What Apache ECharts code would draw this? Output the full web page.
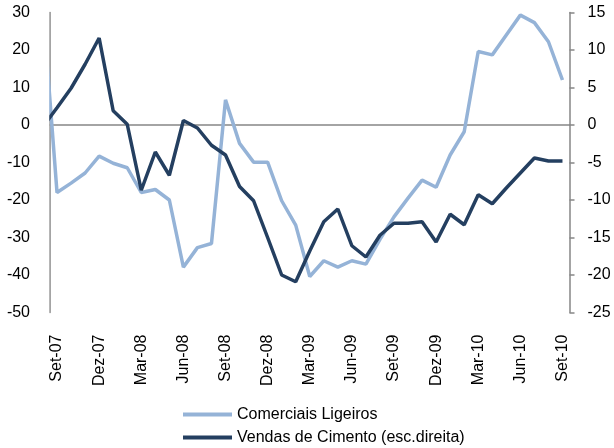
<!DOCTYPE html>
<html>
<head>
<meta charset="utf-8">
<script src="https://cdn.jsdelivr.net/npm/echarts@6/dist/echarts.min.js"></script>
<style>
html,body{margin:0;padding:0;background:#fff;}
#chart{width:614px;height:448px;}
</style>
</head>
<body>
<div id="chart"></div>
<script>
// Months: first entry (Ago-07) lies just left of the plot area and is clipped
var months = ['Ago-07','Set-07','Out-07','Nov-07','Dez-07','Jan-08','Fev-08','Mar-08','Abr-08','Mai-08','Jun-08','Jul-08','Ago-08',
  'Set-08','Out-08','Nov-08','Dez-08','Jan-09','Fev-09','Mar-09','Abr-09','Mai-09','Jun-09','Jul-09','Ago-09',
  'Set-09','Out-09','Nov-09','Dez-09','Jan-10','Fev-10','Mar-10','Abr-10','Mai-10','Jun-10','Jul-10','Ago-10','Set-10'];
var shownMonths = months.slice(1);

var comerciaisLigeiros = [31, -18.0, -15.5, -12.8, -8.3, -10.2, -11.4, -18.0, -17.2, -20.0, -37.9, -32.7, -31.6,
  6.7, -4.9, -9.9, -9.9, -20.2, -26.7, -40.4, -36.2, -37.9, -36.2, -37.1, -30.5,
  -24.5, -19.5, -14.7, -16.6, -8.0, -1.8, 19.6, 18.7, 24.0, 29.3, 27.3, 22.2, 12.0];

var vendasCimento = [-0.2, 2.3, 4.9, 8.1, 11.6, 1.9, 0.1, -8.7, -3.6, -6.7, 0.6, -0.4, -2.7,
  -4.0, -8.2, -10.1, -15.0, -20.0, -20.9, -16.8, -12.9, -11.2, -16.1, -17.6, -14.7,
  -13.1, -13.1, -12.9, -15.6, -11.9, -13.3, -9.3, -10.5, -8.4, -6.4, -4.4, -4.8, -4.8];

var leftTicks = {min: -50, max: 30, interval: 10};
var rightTicks = {min: -25, max: 15, interval: 5};

function toPairs(arr) {
  return arr.map(function (v, k) { return [k - 1, v]; });
}

var font = 'Liberation Sans, Arial, sans-serif';
var chart = echarts.init(document.getElementById('chart'), null, {renderer: 'canvas'});
chart.setOption({
  animation: false,
  backgroundColor: '#ffffff',
  grid: {left: 50, right: 44.5, top: 12.5, bottom: 135.5, containLabel: false},
  legend: {
    orient: 'vertical',
    left: 183,
    top: 405,
    padding: 0,
    itemWidth: 49,
    itemHeight: 4,
    itemGap: 4,
    icon: 'rect',
    textStyle: {fontFamily: font, fontSize: 16, color: '#000', lineHeight: 19},
    data: ['Comerciais Ligeiros', 'Vendas de Cimento (esc.direita)']
  },
  // white mask hiding the stroke overflow left of the plot edge (plot-area clipping as in the original)
  graphic: [{
    type: 'rect',
    z: 100,
    silent: true,
    shape: {x: 38, y: 0, width: 11.2, height: 320},
    style: {fill: '#ffffff'}
  }],
  xAxis: [
    {
      type: 'category',
      data: shownMonths,
      boundaryGap: true,
      position: 'bottom',
      axisLine: {show: false, onZero: false},
      axisTick: {show: false},
      axisLabel: {interval: 2, rotate: 90, margin: 22, fontFamily: font, fontSize: 16, color: '#000'},
      splitLine: {show: false}
    },
    {
      type: 'value',
      min: -0.5,
      max: shownMonths.length - 0.5,
      position: 'bottom',
      axisLine: {show: true, onZero: true, onZeroAxisIndex: 0, lineStyle: {color: '#868686', width: 1.5}},
      axisTick: {show: false},
      axisLabel: {show: false},
      splitLine: {show: false}
    }
  ],
  yAxis: [
    {
      type: 'value',
      position: 'left',
      min: leftTicks.min, max: leftTicks.max, interval: leftTicks.interval,
      axisLine: {show: true, onZero: false, lineStyle: {color: '#868686', width: 1.5}},
      axisTick: {show: false},
      axisLabel: {margin: 20, fontFamily: font, fontSize: 16, color: '#000'},
      splitLine: {show: false}
    },
    {
      type: 'value',
      position: 'right',
      min: rightTicks.min, max: rightTicks.max, interval: rightTicks.interval,
      axisLine: {show: true, onZero: false, lineStyle: {color: '#868686', width: 1.5}},
      axisTick: {show: true, inside: false, length: 5, lineStyle: {color: '#868686', width: 1.5}},
      axisLabel: {margin: 18, fontFamily: font, fontSize: 16, color: '#000'},
      splitLine: {show: false}
    }
  ],
  series: [
    {
      name: 'Comerciais Ligeiros',
      type: 'line',
      xAxisIndex: 1,
      yAxisIndex: 0,
      data: toPairs(comerciaisLigeiros),
      showSymbol: false,
      symbol: 'none',
      clip: true,
      lineStyle: {color: '#95B3D7', width: 3.5},
      itemStyle: {color: '#95B3D7'}
    },
    {
      name: 'Vendas de Cimento (esc.direita)',
      type: 'line',
      xAxisIndex: 1,
      yAxisIndex: 1,
      data: toPairs(vendasCimento),
      showSymbol: false,
      symbol: 'none',
      clip: true,
      lineStyle: {color: '#243F60', width: 3.5},
      itemStyle: {color: '#243F60'}
    }
  ]
});
</script>
</body>
</html>
